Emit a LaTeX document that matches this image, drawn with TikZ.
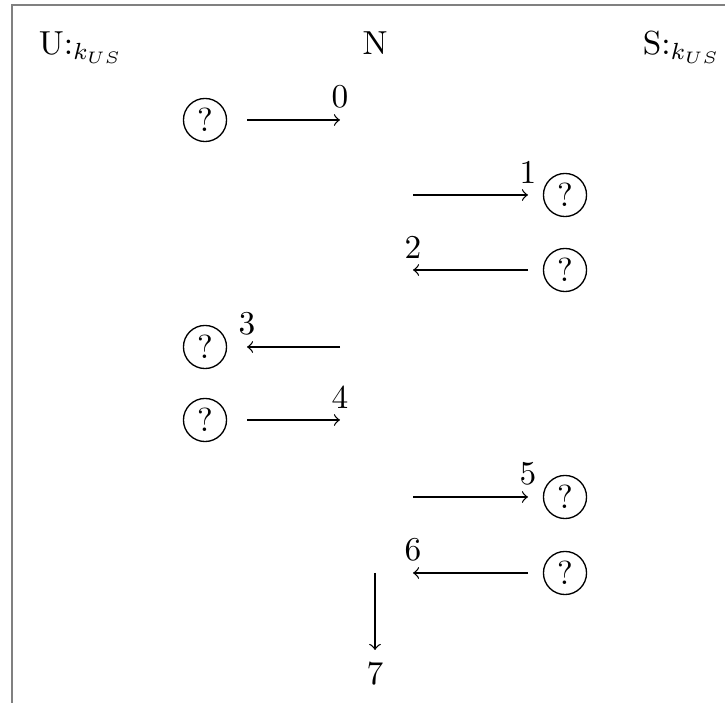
\documentclass[tikz,border=0pt]{standalone}
\usepackage{amsmath}
\usepackage{tikz}

\tikzset{
  party/.style={circle, draw, inner sep=1.6pt},
  msg/.style={->}
}

\begin{document}
\begin{tikzpicture}[x=.3pt,y=-.3pt]
\useasboundingbox (0,0) rectangle (725,703);
\draw[gray, line width=.6pt] (12,703) -- (12,5) -- (725,5);
% column heads
\node[anchor=base west] (hU) at (27,55) {U:$_{k_{US}}$};
\node[anchor=base] (hN) at (375,55) {N};
\node[anchor=base west] (hS) at (631,55) {S:$_{k_{US}}$};
% messages
\node[party] (u0) at (205,120) {?};
\coordinate (a0) at (247,120);
\coordinate (b0) at (340,120);
\draw[msg] (a0) -- (b0) node[above] (m0) {0};
\node[party] (s1) at (565,195) {?};
\coordinate (a1) at (413,195);
\coordinate (b1) at (528,195);
\draw[msg] (a1) -- (b1) node[above] (m1) {1};
\node[party] (s2) at (565,270) {?};
\coordinate (a2) at (528,270);
\coordinate (b2) at (413,270);
\draw[msg] (a2) -- (b2) node[above] (m2) {2};
\node[party] (u3) at (205,347) {?};
\coordinate (a3) at (340,347);
\coordinate (b3) at (247,347);
\draw[msg] (a3) -- (b3) node[above] (m3) {3};
\node[party] (u4) at (205,420) {?};
\coordinate (a4) at (247,420);
\coordinate (b4) at (340,420);
\draw[msg] (a4) -- (b4) node[above] (m4) {4};
\node[party] (s5) at (565,497) {?};
\coordinate (a5) at (413,497);
\coordinate (b5) at (528,497);
\draw[msg] (a5) -- (b5) node[above] (m5) {5};
\node[party] (s6) at (565,573) {?};
\coordinate (a6) at (528,573);
\coordinate (b6) at (413,573);
\draw[msg] (a6) -- (b6) node[above] (m6) {6};
\coordinate (a7) at (375,573);
\coordinate (b7) at (375,650);
\draw[msg] (a7) -- (b7) node[below] (m7) {7};
\end{tikzpicture}
\end{document}
